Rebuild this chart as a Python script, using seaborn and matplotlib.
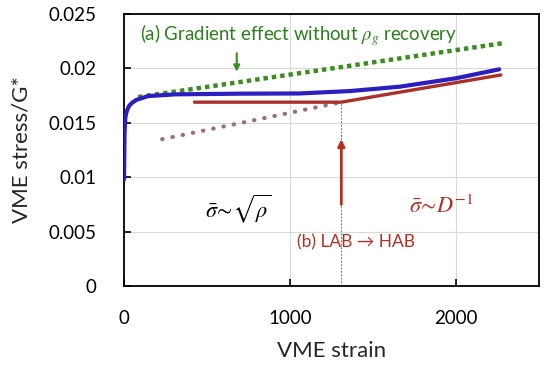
import numpy as np
import pandas as pd
import matplotlib.pyplot as plt
import seaborn as sns

# curva VME stress (albastru)
blue_x = [0, 3, 8, 15, 28, 45, 73, 145, 310, 700, 1055, 1360, 1660, 2000, 2260]
blue_y = [0.0098, 0.0140, 0.0155, 0.0160, 0.0165, 0.0168, 0.0171, 0.01746, 0.01762,
          0.01768, 0.01770, 0.01792, 0.01832, 0.0191, 0.01992]

# efect de gradient fara recuperare (verde punctat)
green_x = [85, 2285]
green_y = [0.01737, 0.02233]

# LAB -> HAB (rosu)
red_x = [424, 1309, 2270]
red_y = [0.0169, 0.0169, 0.0194]

# extrapolare punctata
dot_x = [230, 1309]
dot_y = [0.0135, 0.0169]

knee_x = [1309, 1309]
knee_y = [0, 0.0169]

sns.set_style("ticks")
plt.rcParams['font.family'] = ['Lato', 'DejaVu Sans']
plt.rcParams['mathtext.fontset'] = 'stix'

fig = plt.figure(figsize=(5.5, 3.68), dpi=100)
ax = fig.add_axes([0.2255, 0.2228, 0.7545, 0.739])

ax.grid(True, color='#d9d9d9', lw=0.8)
ax.set_axisbelow(True)

ax.plot(knee_x, knee_y, color='#6a6ad0', lw=0.7, ls=(0, (2, 1.5)), zorder=2)
ax.plot(dot_x, dot_y, color='#9c6e70', lw=3.0, ls=(0, (0.1, 2.4)),
        dash_capstyle='round', zorder=3)

df_g = pd.DataFrame({'x': green_x, 'y': green_y})
sns.lineplot(data=df_g, x='x', y='y', ax=ax, color='#3c8c1e', lw=3.2,
             ls=(0, (1, 0.9)), zorder=3)

df_r = pd.DataFrame({'x': red_x, 'y': red_y})
sns.lineplot(data=df_r, x='x', y='y', ax=ax, color='#a8322a', lw=2.4,
             sort=False, zorder=4)

df_b = pd.DataFrame({'x': blue_x, 'y': blue_y})
sns.lineplot(data=df_b, x='x', y='y', ax=ax, color='#2b1fc0', lw=3.0,
             sort=False, zorder=5)

# sageti
ax.annotate('', xy=(1309, 0.0135), xytext=(1309, 0.0075),
            arrowprops=dict(arrowstyle='-|>', color='#b03022', lw=2.0,
                            mutation_scale=10, shrinkA=0, shrinkB=0), zorder=6)
ax.annotate('', xy=(679, 0.0197), xytext=(679, 0.0214),
            arrowprops=dict(arrowstyle='-|>', color='#3c8c1e', lw=1.5,
                            mutation_scale=9, shrinkA=0, shrinkB=0), zorder=6)

# texte
ax.text(97, 0.0231, r'(a) Gradient effect without $\rho_g$ recovery', color='#2e7d1e',
        fontsize=13.4, va='center', ha='left')
ax.text(690, 0.0071, r'$\bar{\sigma}\!\sim\!\sqrt{\rho}$', color='black', fontsize=16,
        va='center', ha='center')
ax.text(1909, 0.0074, r'$\bar{\sigma}\!\sim\! D^{-1}$', color='#b03022', fontsize=16,
        va='center', ha='center')
ax.text(1400, 0.0040, '(b) LAB → HAB', color='#b03022', fontsize=12.5,
        va='center', ha='center')

ax.set_xlim(0, 2500)
ax.set_ylim(0, 0.025)
ax.set_xticks([0, 1000, 2000])
ax.set_xticklabels(['0', '1000', '2000'])
ax.set_yticks([0, 0.005, 0.01, 0.015, 0.02, 0.025])
ax.set_yticklabels(['0', '0.005', '0.01', '0.015', '0.02', '0.025'])
ax.tick_params(direction='in', length=5, width=1.2, labelsize=13.5, colors='black')
ax.tick_params(axis='y', pad=20)
ax.tick_params(axis='x', pad=17)

for s in ax.spines.values():
    s.set_color('black')
    s.set_linewidth(1.3)

ax.set_xlabel('VME strain', fontsize=16, labelpad=10)
ax.set_ylabel('VME stress/G*', fontsize=16, labelpad=12)

fig.savefig('out.png', dpi=100)
